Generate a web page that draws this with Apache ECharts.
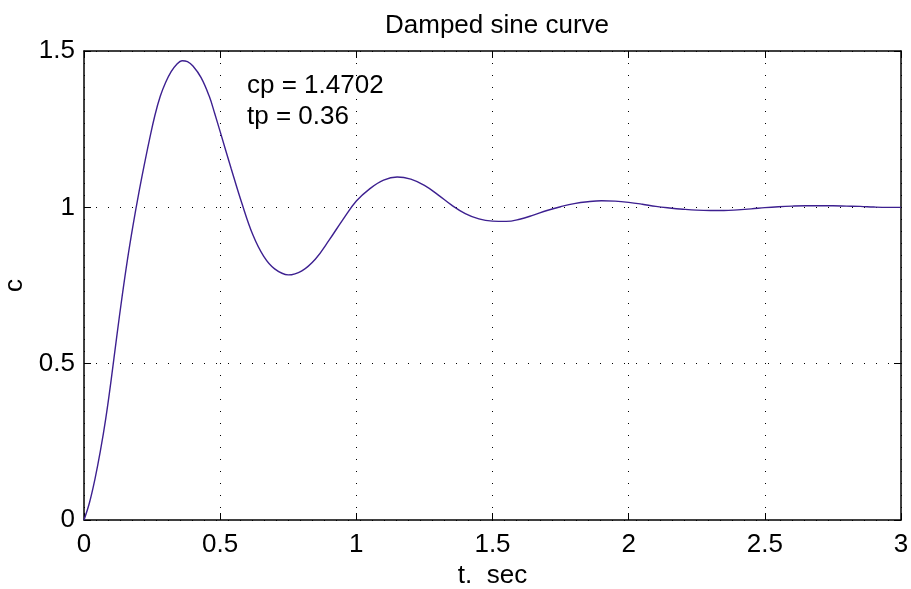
<!DOCTYPE html>
<html><head><meta charset="utf-8">
<script src="https://cdn.jsdelivr.net/npm/echarts@6/dist/echarts.min.js"></script>
<style>html,body{margin:0;padding:0;background:#fff}#c{width:911px;height:589px}</style>
</head><body><div id="c"></div>
<script>
var titleText = 'Damped sine curve';
var xName = 't.  sec';
var yName = 'c';
var notes = ['cp = 1.4702', 'tp = 0.36'];
var tVals = [0,0.02,0.04,0.06,0.08,0.10,0.12,0.14,0.16,0.18,0.20,0.22,0.24,0.26,0.28,0.30,0.32,0.34,0.36,0.38,0.40,0.43,0.46,0.48,0.50,0.54,0.58,0.62,0.66,0.70,0.75,0.80,0.85,0.90,0.95,1.00,1.05,1.10,1.15,1.20,1.25,1.30,1.35,1.40,1.45,1.50,1.55,1.60,1.65,1.70,1.75,1.80,1.85,1.90,1.95,2.00,2.05,2.10,2.15,2.20,2.25,2.30,2.35,2.40,2.45,2.50,2.55,2.60,2.65,2.70,2.75,2.80,2.85,2.90,2.95,3.00];
var cVals = [0,0.055,0.13,0.22,0.325,0.45,0.585,0.715,0.835,0.942,1.04,1.13,1.215,1.293,1.355,1.40,1.434,1.457,1.469,1.466,1.452,1.415,1.355,1.30,1.242,1.125,1.012,0.912,0.843,0.803,0.784,0.797,0.835,0.895,0.96,1.02,1.06,1.087,1.097,1.09,1.07,1.04,1.007,0.98,0.963,0.956,0.955,0.962,0.975,0.99,1.002,1.012,1.018,1.021,1.02,1.016,1.01,1.003,0.998,0.994,0.991,0.990,0.990,0.992,0.995,0.999,1.002,1.004,1.005,1.005,1.005,1.004,1.003,1.001,1.000,1.000];

var font = 'Liberation Sans, Arial, Helvetica, sans-serif';
var chart = echarts.init(document.getElementById('c'), null, {renderer:'canvas'});
var pts = tVals.map(function(t,i){return [t,cVals[i]];});
var gridDot = {show:true, lineStyle:{color:'#000', width:1, type:[1,11]}};
function ax(pos, showLabel, extra){
  var o = {
    type:'value', position:pos, min:0, interval:0.5,
    axisLine:{show:true, onZero:false, lineStyle:{color:'#000', width:1.5}},
    axisTick:{show:true, inside:true, length:7, lineStyle:{color:'#000', width:1}},
    axisLabel:{show:showLabel, color:'#000', fontSize:26, fontFamily:font},
    splitLine:{show:false}
  };
  for (var k in extra) o[k]=extra[k];
  return o;
}
chart.setOption({
  animation:false,
  backgroundColor:'#fff',
  title:{text:titleText, left:492, textAlign:'center', top:8,
    textStyle:{color:'#000', fontSize:26, fontWeight:'normal', fontFamily:font}},
  grid:{left:84, right:10, top:51, bottom:69, containLabel:false, outerBoundsMode:'none'},
  xAxis:[
    ax('bottom', true, {max:3, name:xName, nameLocation:'middle', nameGap:43,
      nameTextStyle:{color:'#000', fontSize:26, fontFamily:font},
      axisLabel:{show:true, color:'#000', fontSize:26, fontFamily:font, margin:12,
        formatter:function(v){return String(v);}},
      splitLine:gridDot}),
    ax('top', false, {max:3})
  ],
  yAxis:[
    ax('left', true, {max:1.5, name:yName, nameLocation:'middle', nameGap:53,
      nameTextStyle:{color:'#000', fontSize:26, fontFamily:font},
      axisLabel:{show:true, color:'#000', fontSize:26, fontFamily:font, margin:9,
        formatter:function(v){return String(v);}},
      splitLine:gridDot}),
    ax('right', false, {max:1.5})
  ],
  graphic:[
    {type:'text', left:247, top:73, style:{text:notes[0], fill:'#000', font:'26px '+font}},
    {type:'text', left:247, top:104, style:{text:notes[1], fill:'#000', font:'26px '+font}}
  ],
  series:[{
    type:'line', data:pts, smooth:0.4, showSymbol:false, symbol:'none',
    xAxisIndex:0, yAxisIndex:0,
    lineStyle:{color:'#3d2090', width:1.4}
  }]
});
</script></body></html>
